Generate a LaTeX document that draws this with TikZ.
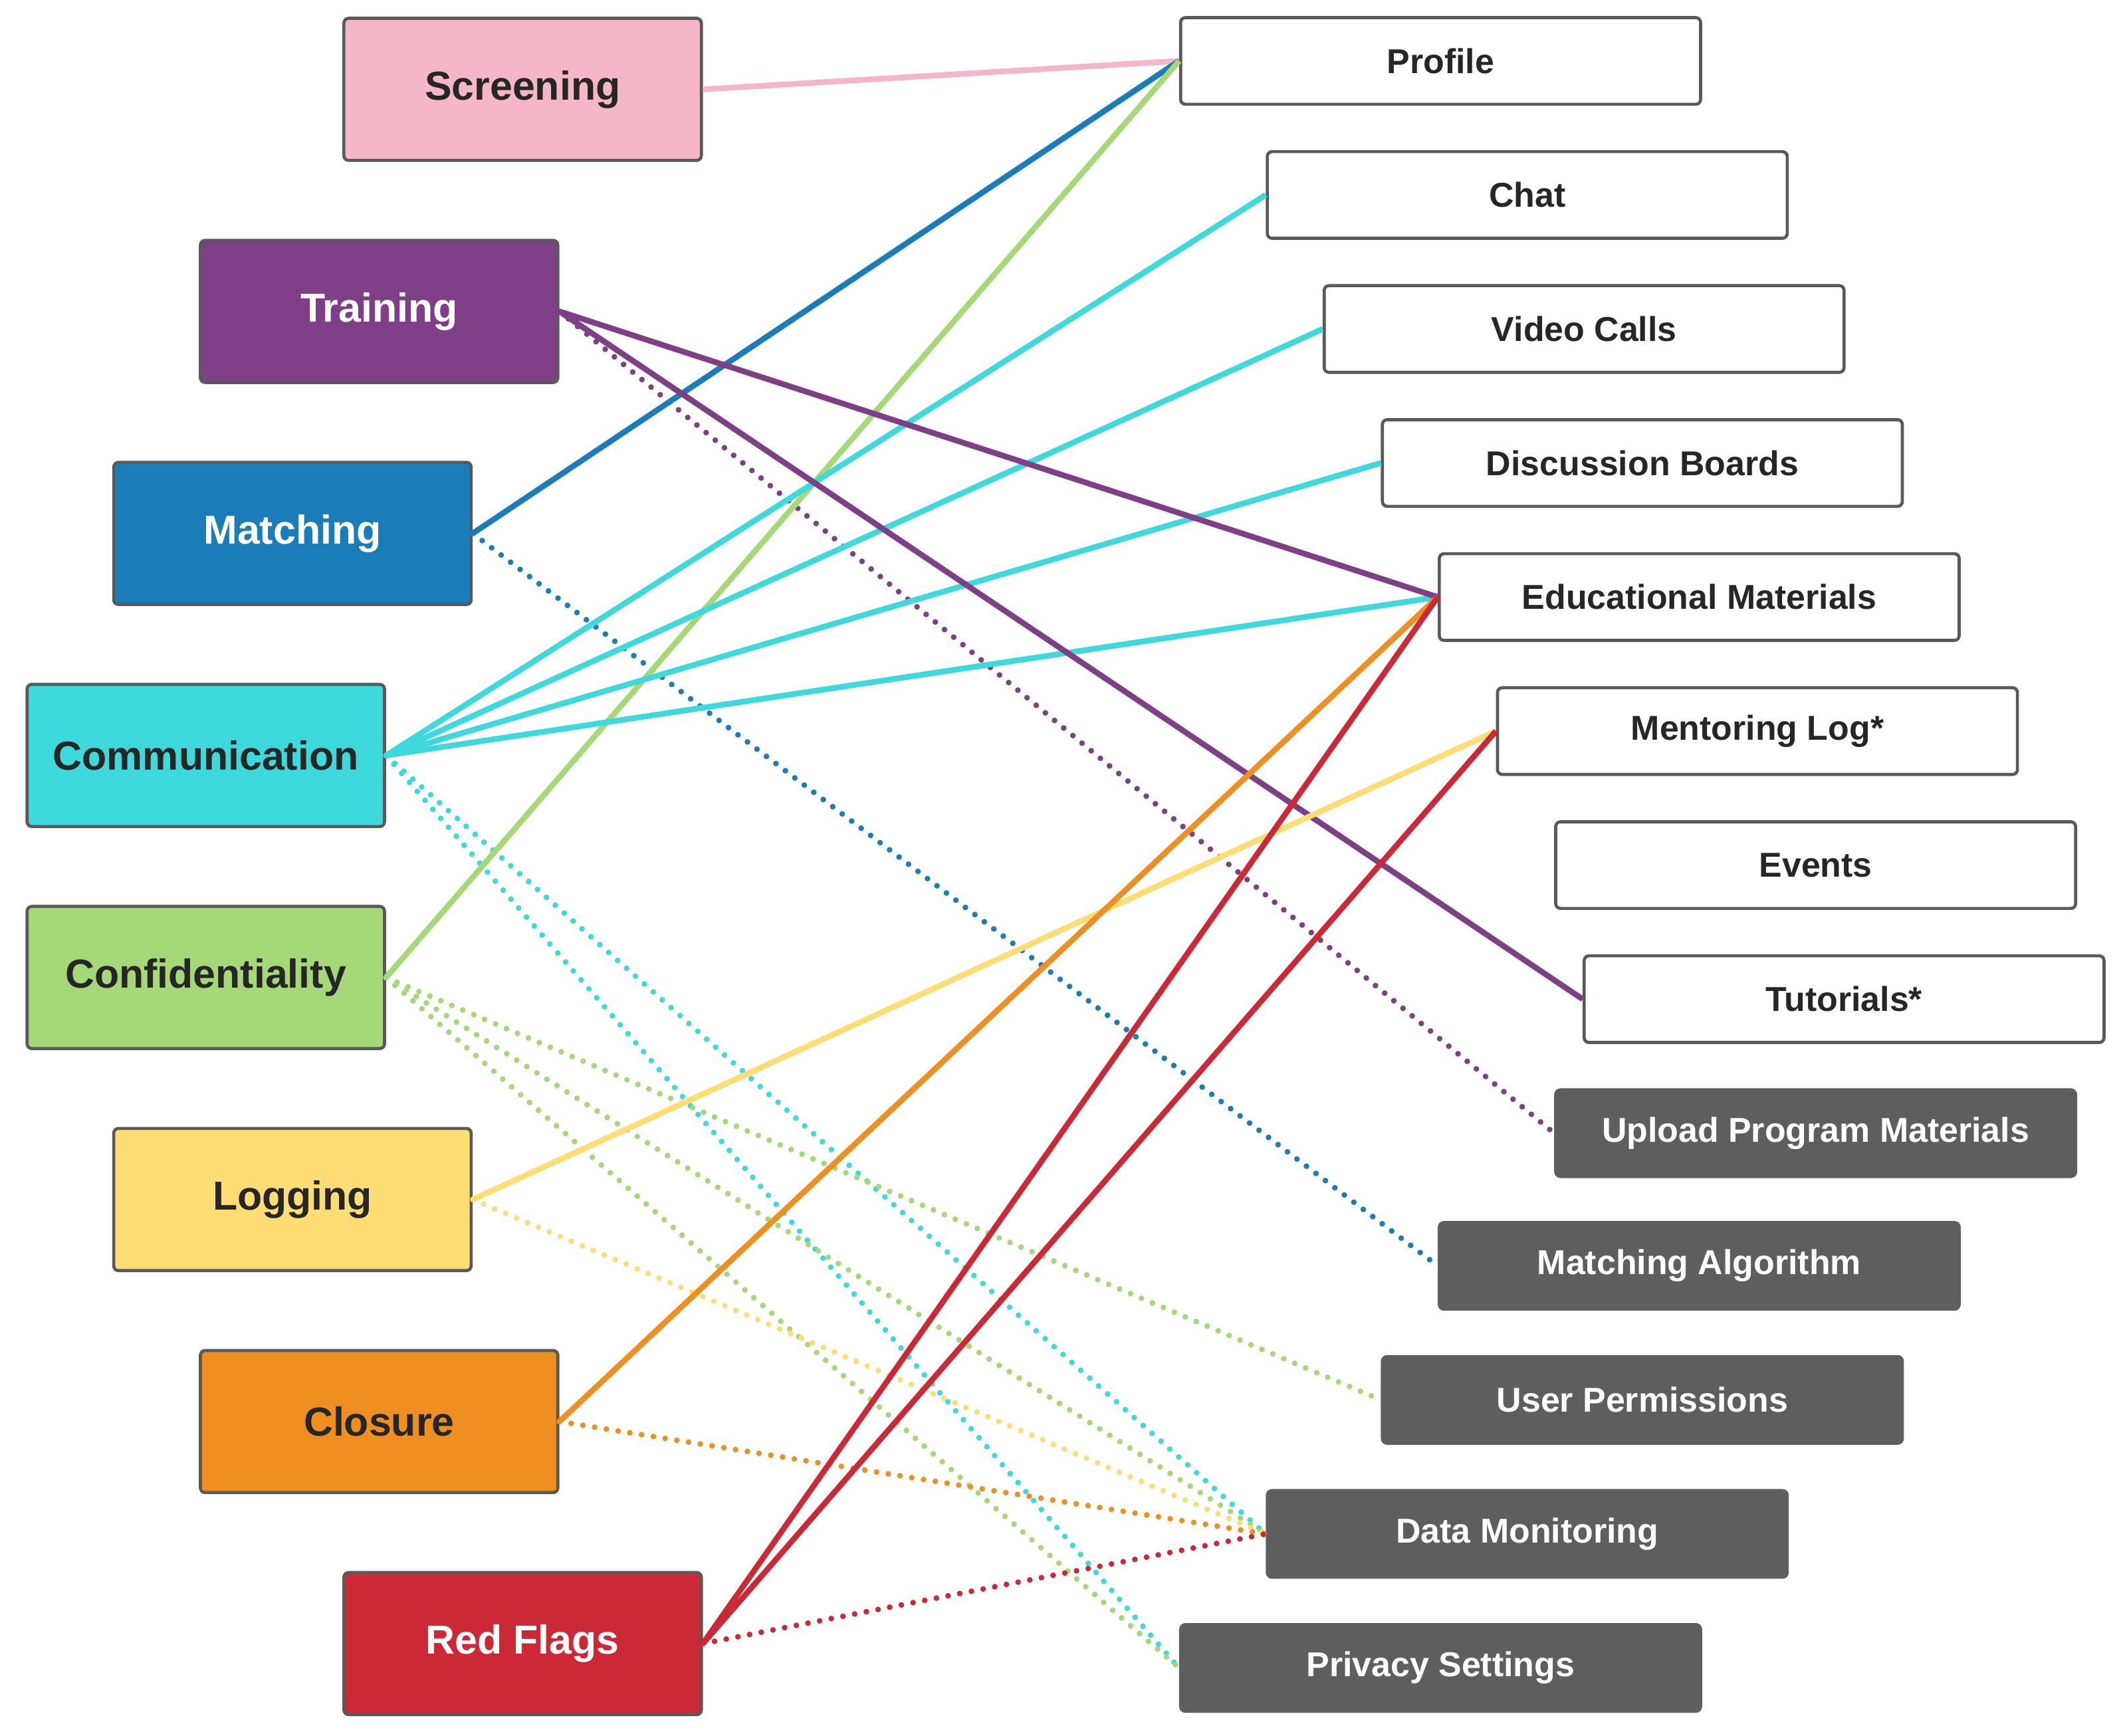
\documentclass[tikz,border=0pt]{standalone}
\usepackage{fontspec}
\setmainfont{Liberation Sans}
\begin{document}
\begin{tikzpicture}[x=0.02cm,y=-0.02cm,
 L/.style={draw=black!65,line width=1.3pt,rounded corners=2pt,minimum width=264*0.02cm,minimum height=105*0.02cm,font=\bfseries\fontsize{17}{20}\selectfont,inner sep=0pt},
 R/.style={draw=black!65,line width=1.3pt,rounded corners=2pt,fill=white,minimum width=384*0.02cm,minimum height=64*0.02cm,font=\bfseries\fontsize{14.5}{17}\selectfont,text=black!85,inner sep=0pt},
 D/.style={R,fill=black!63,draw=black!63,text=white},
 s/.style={line width=2.4pt},
 d/.style={line width=2.4pt,dash pattern=on 0pt off 5pt,line cap=round}]
\useasboundingbox (0,0) rectangle (1568,1282);
\definecolor{pk}{HTML}{F4B6C8}\definecolor{pu}{HTML}{7F3F87}\definecolor{bl}{HTML}{1A7DBA}
\definecolor{cy}{HTML}{3DD9DD}\definecolor{gr}{HTML}{A5D877}\definecolor{ye}{HTML}{FEDD75}
\definecolor{or}{HTML}{EF8F22}\definecolor{rd}{HTML}{CC2936}
% right nodes
\node[R] (pro) at (1064,45) {Profile};
\node[R] (cha) at (1128,144) {Chat};
\node[R] (vid) at (1170,243) {Video Calls};
\node[R] (dis) at (1213,342) {Discussion Boards};
\node[R] (edu) at (1255,441) {Educational Materials};
\node[R] (men) at (1298,540) {Mentoring Log*};
\node[R] (eve) at (1341,639) {Events};
\node[R] (tut) at (1362,738) {Tutorials*};
\node[D] (upl) at (1341,837) {Upload Program Materials};
\node[D] (mal) at (1255,935) {Matching Algorithm};
\node[D] (usr) at (1213,1034) {User Permissions};
\node[D] (dat) at (1128,1133) {Data Monitoring};
\node[D] (pri) at (1064,1232) {Privacy Settings};
% left nodes
\node[L,fill=pk,text=black!85] (scr) at (386,66) {Screening};
\node[L,fill=pu,text=white] (tra) at (280,230) {Training};
\node[L,fill=bl,text=white] (mat) at (216,394) {Matching};
\node[L,fill=cy,text=black!85] (com) at (152,558) {Communication};
\node[L,fill=gr,text=black!85] (con) at (152,722) {Confidentiality};
\node[L,fill=ye,text=black!85] (log) at (216,886) {Logging};
\node[L,fill=or,text=black!85] (clo) at (280,1050) {Closure};
\node[L,fill=rd,text=white] (red) at (386,1214) {Red Flags};
% dotted
\draw[d,pu] (tra.east) -- (upl.west);
\draw[d,bl] (mat.east) -- (mal.west);
\draw[d,cy] (com.east) -- (dat.west);
\draw[d,cy] (com.east) -- (pri.west);
\draw[d,gr] (con.east) -- (usr.west);
\draw[d,gr] (con.east) -- (dat.west);
\draw[d,gr] (con.east) -- (pri.west);
\draw[d,ye] (log.east) -- (dat.west);
\draw[d,or] (clo.east) -- (dat.west);
\draw[d,rd] (red.east) -- (dat.west);
% solid
\draw[s,pk] (scr.east) -- (pro.west);
\draw[s,bl] (mat.east) -- (pro.west);
\draw[s,gr] (con.east) -- (pro.west);
\foreach \t in {cha,vid,dis,edu} \draw[s,cy] (com.east) -- (\t.west);
\draw[s,pu] (tra.east) -- (edu.west);
\draw[s,pu] (tra.east) -- (tut.west);
\draw[s,ye] (log.east) -- (men.west);
\draw[s,or] (clo.east) -- (edu.west);
\draw[s,rd] (red.east) -- (edu.west);
\draw[s,rd] (red.east) -- (men.west);
\end{tikzpicture}
\end{document}
